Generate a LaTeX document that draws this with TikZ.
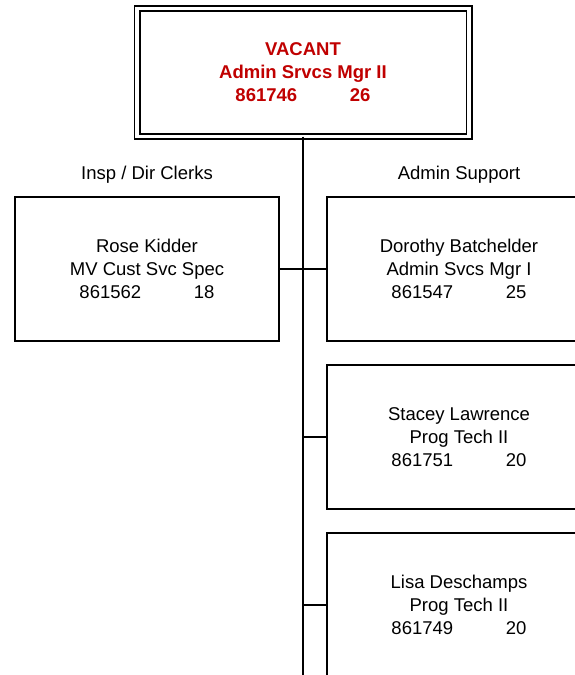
\documentclass[tikz,border=0pt]{standalone}
\usepackage{fontspec}
\setmainfont{Liberation Sans}
\usetikzlibrary{positioning,calc}
\definecolor{vacred}{RGB}{192,0,0}
\newcommand{\posno}[2]{#1\hspace{2.85em}#2}

\begin{document}
\begin{tikzpicture}[
    x=1pt, y=1pt,
    every node/.style={font=\fontsize{18.5}{23}\selectfont, align=center, outer sep=0pt},
    posbox/.style={draw, line width=1.5pt, minimum width=264pt, minimum height=144pt, inner sep=0pt},
    topbox/.style={draw, line width=1.9pt, double, double distance=3.2pt,
        minimum width=332pt, minimum height=128pt, inner sep=0pt,
        text=vacred, font=\bfseries\fontsize{18.5}{23}\selectfont},
    grplabel/.style={inner sep=0pt, anchor=base},
    link/.style={line width=1.6pt}
]
    \useasboundingbox (0,0) rectangle (575,-675);

    \node [topbox] (mgr) at (303,-72.5) {VACANT\\ Admin Srvcs Mgr II\\ \posno{861746}{26}};

    \node [posbox] (kidder) at (147,-269) {Rose Kidder\\ MV Cust Svc Spec\\ \posno{861562}{18}};
    \node [posbox, right=48pt of kidder] (batchelder) {Dorothy Batchelder\\ Admin Svcs Mgr I\\ \posno{861547}{25}};
    \node [posbox, below=24pt of batchelder] (lawrence) {Stacey Lawrence\\ Prog Tech II\\ \posno{861751}{20}};
    \node [posbox, below=24pt of lawrence] (deschamps) {Lisa Deschamps\\ Prog Tech II\\ \posno{861749}{20}};

    \node [grplabel] (clerks) at ($(kidder.north)+(0,18)$) {Insp / Dir Clerks};
    \node [grplabel] (support) at ($(batchelder.north)+(0,18)$) {Admin Support};

    \coordinate (trunkend) at (303,-675);
    \draw [link] (mgr.south) -- (trunkend);
    \draw [link] (kidder.east) -- (batchelder.west);
    \draw [link] (lawrence.west) -- (lawrence.west -| mgr.south);
    \draw [link] (deschamps.west) -- (deschamps.west -| mgr.south);
\end{tikzpicture}
\end{document}
